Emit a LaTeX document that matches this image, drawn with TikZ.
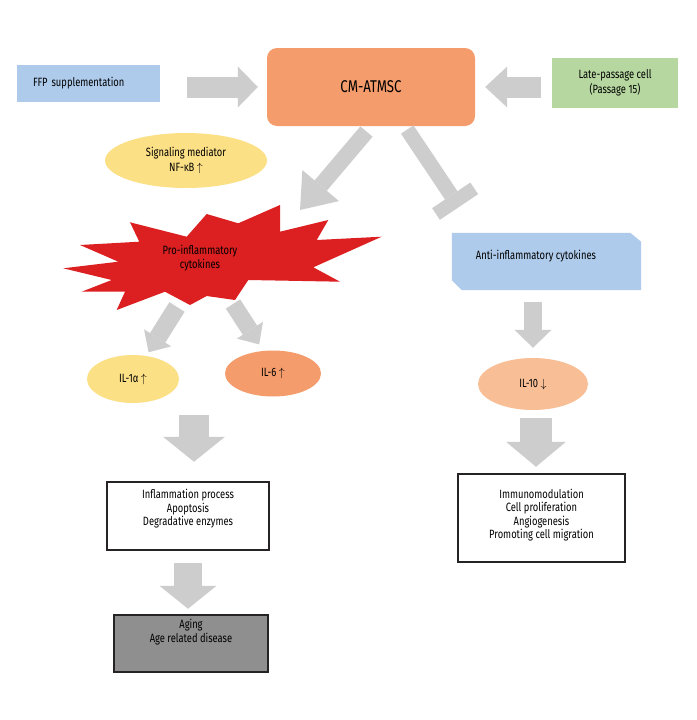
\documentclass[tikz,border=0pt]{standalone}
\usepackage{fontspec}
\setmainfont[FakeStretch=0.78]{Fira Sans}
\usetikzlibrary{shapes.geometric, arrows.meta, positioning}

\definecolor{cellblue}{HTML}{AECBEB}
\definecolor{cmorange}{HTML}{F49C6B}
\definecolor{lategreen}{HTML}{B6D8A0}
\definecolor{medyellow}{HTML}{FCE086}
\definecolor{lightorange}{HTML}{F8BF97}
\definecolor{starred}{HTML}{DC1F20}
\definecolor{arrowgray}{HTML}{CDCDCD}
\definecolor{aginggray}{HTML}{8F8F8F}
\definecolor{boxline}{HTML}{262324}

\begin{document}
\begin{tikzpicture}[
    x=1pt, y=-1pt,
    font=\fontsize{12}{13.5}\selectfont,
    outcome/.style={rectangle, draw=boxline, line width=2.5pt, fill=white},
    oval/.style={ellipse, inner sep=0pt, align=center},
    blockarrow/.style n args={3}{draw=arrowgray, line width=#1,
        -{Triangle[width=#2, length=#3, line width=0pt]}}
]
    % canvas
    \fill[white] (0,0) rectangle (696,720);

    % Inputs and conditioned medium
    \node[fill=cellblue, minimum width=143pt, minimum height=37pt,
          text width=111pt, inner xsep=16pt, align=left] (ffp) at (88.5,83.5) {FFP supplementation};
    \node[fill=cmorange, rounded corners=10pt, minimum width=208pt, minimum height=78pt,
          font=\fontsize{17}{20}\selectfont] (cm) at (371,87) {CM-ATMSC};
    \node[fill=lategreen, minimum width=126pt, minimum height=50pt, align=center,
          font=\fontsize{12}{14.5}\selectfont] (late) at (615,83) {Late-passage cell\\(Passage 15)};

    % Signaling mediator
    \node[oval, fill=medyellow, minimum width=162pt, minimum height=55pt,
          font=\fontsize{12}{15}\selectfont] (nfkb) at (186,160.5)
        {Signaling mediator\\NF-κB $\uparrow$};

    % Pro-inflammatory burst
    \fill[starred] (130,222.3) -- (139.3,241.7) -- (80,245) -- (118.3,261.7) -- (63.3,268.3)
        -- (111.7,280) -- (81.7,291.7) -- (125,291.7) -- (116.7,310) -- (165,291.7)
        -- (190,305) -- (206.7,296) -- (235,300) -- (248.3,280) -- (340,281.7)
        -- (313.3,267.3) -- (381.7,236.7) -- (316.7,240) -- (328.3,220) -- (280,231.7)
        -- (280,205) -- (238.3,223.3) -- (206.7,214) -- (186.7,236.7) -- cycle;
    \node[align=center] (pro) at (200,258) {Pro-inflammatory\\cytokines};
    \coordinate (prohit) at (300,210);
    \coordinate (proleft) at (177,307);
    \coordinate (proright) at (233,304);

    % Anti-inflammatory cytokines
    \node[minimum width=189pt, minimum height=57pt, inner sep=0pt] (anti) at (546.5,261.5) {};
    \fill[cellblue] (anti.north west) -- ([xshift=-11pt]anti.north east) -- ([yshift=-9pt]anti.north east)
        -- (anti.south east) -- ([xshift=10pt]anti.south west) -- ([yshift=10pt]anti.south west) -- cycle;
    \node (antitxt) at (536,256) {Anti-inflammatory cytokines};
    \coordinate (antihit) at (459,207);

    % Interleukins
    \node[oval, fill=medyellow, minimum width=92pt, minimum height=48pt] (il1) at (133,379) {IL-1α $\uparrow$};
    \node[oval, fill=cmorange, minimum width=96pt, minimum height=46pt] (il6) at (273,373.5) {IL-6 $\uparrow$};
    \node[oval, fill=lightorange, minimum width=110pt, minimum height=52pt] (il10) at (533,384) {IL-10 $\downarrow$};
    \coordinate (ilmerge) at (194,415);

    % Outcomes
    \node[outcome, minimum width=162pt, minimum height=68pt] (inflam) at (188,516) {};
    \node[align=center] (inflamtxt) at (188,509) {Inflammation process\\Apoptosis\\Degradative enzymes};
    \node[outcome, fill=aginggray, minimum width=154pt, minimum height=57pt] (aging) at (191,643.5) {};
    \node[align=center] (agingtxt) at (191,632) {Aging\\Age related disease};
    \node[outcome, minimum width=167pt, minimum height=88pt] (immuno) at (541.5,518) {};
    \node[align=center] (immunotxt) at (541.5,515)
        {Immunomodulation\\Cell proliferation\\Angiogenesis\\Promoting cell migration};

    % Block arrows
    \draw[blockarrow={21pt}{41pt}{20pt}, shorten <=27pt, shorten >=9pt] (ffp.east |- cm.west) -- (cm.west);
    \draw[blockarrow={21pt}{41pt}{22pt}, shorten <=11pt, shorten >=10pt] (late.west |- cm.east) -- (cm.east);
    \draw[blockarrow={16pt}{48pt}{32pt}, shorten <=7pt] (cm.south) -- (prohit);
    \draw[draw=arrowgray, line width=15pt, -{Rectangle[width=46pt, length=14pt, line width=0pt]},
          shorten <=4pt] ([xshift=34pt]cm.south) -- (antihit);
    \draw[blockarrow={18pt}{32pt}{17pt}, shorten >=3pt] (proleft) -- ([xshift=14pt]il1.north);
    \draw[blockarrow={17pt}{31pt}{17pt}, shorten >=7pt] (proright) -- ([xshift=-10pt]il6.north);
    \draw[blockarrow={18pt}{37pt}{18pt}, shorten <=12pt, shorten >=10pt] (il10.north |- anti.south) -- (il10.north);
    \draw[blockarrow={32pt}{60pt}{25pt}, shorten <=8pt, shorten >=6pt] ([xshift=3pt]il10.south) -- ([xshift=3pt]il10.south |- immuno.north);
    \draw[blockarrow={30pt}{62pt}{25pt}, shorten >=19pt] (ilmerge) -- (ilmerge |- inflam.north);
    \draw[blockarrow={28pt}{57pt}{23pt}, shorten <=12pt, shorten >=5pt] (inflam.south) -- (inflam.south |- aging.north);
\end{tikzpicture}
\end{document}
